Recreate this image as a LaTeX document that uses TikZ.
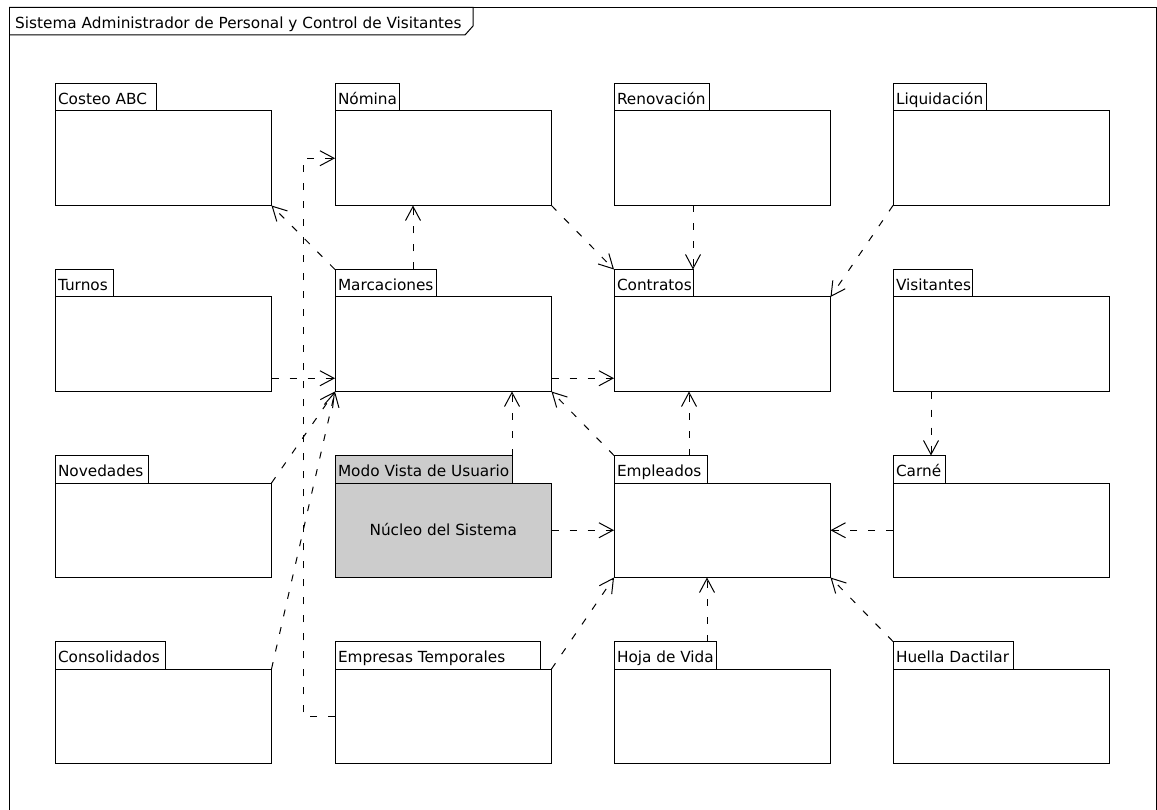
\documentclass[tikz,border=0pt]{standalone}
\usepackage{fontspec}
\newfontfamily\dv{DejaVu Sans}
\usetikzlibrary{arrows.meta,calc}
\definecolor{nucgray}{HTML}{CCCCCC}
\newcommand\umlpkg[6]{%
  \node[tabbox, fill=#6] (#1T) at (#2,#3) {\makebox[\dimexpr#4pt-6pt\relax][l]{#5}};
  \node[bodybox, fill=#6] (#1B) at (#2,#3+27.5) {};
}
\begin{document}
\begin{tikzpicture}[x=1pt,y=-1pt,
  font=\dv\fontsize{15.3}{18}\selectfont,
  tabbox/.style={draw, line width=1pt, minimum height=27.5pt, inner xsep=3pt, inner ysep=0pt,
    text height=14.2pt, text depth=0pt, outer sep=0pt, anchor=north west},
  bodybox/.style={draw, line width=1pt, minimum width=216.5pt, minimum height=94.5pt,
    inner sep=0pt, outer sep=0pt, anchor=north west},
  dep/.style={line width=1pt, dash pattern=on 7pt off 11pt,
    -{Straight Barb[length=14pt,width=15pt]}},
  frameline/.style={line width=1pt}
]
\useasboundingbox (0,0) rectangle (1157,810);
\fill[white] (0,0) rectangle (1157,810);

% outer frame and title tab
\draw[frameline] (9,7.5) rectangle (1156,830);
\node[anchor=west, inner sep=0pt, text height=14.2pt, text depth=0pt] (title) at (15,21.25)
  {Sistema Administrador de Personal y Control de Visitantes};
\draw[frameline] (9,7.5) -- (473,7.5) -- (473,26) -- (465,35) -- (9,35);

% row 1
\umlpkg{costeo}{55}{83.5}{101.5}{Costeo ABC}{white}
\umlpkg{nom}{335}{83.5}{64}{Nómina}{white}
\umlpkg{ren}{614}{83.5}{95}{Renovación}{white}
\umlpkg{liq}{893}{83.5}{93}{Liquidación}{white}
% row 2
\umlpkg{tur}{55}{269.5}{58}{Turnos}{white}
\umlpkg{marc}{335}{269.5}{101}{Marcaciones}{white}
\umlpkg{cont}{614}{269.5}{79}{Contratos}{white}
\umlpkg{vis}{893}{269.5}{79}{Visitantes}{white}
% row 3
\umlpkg{nov}{55}{455.5}{93}{Novedades}{white}
\umlpkg{nuc}{335}{455.5}{177}{Modo Vista de Usuario}{nucgray}
\umlpkg{empl}{614}{455.5}{93}{Empleados}{white}
\umlpkg{car}{893}{455.5}{52}{Carné}{white}
% row 4
\umlpkg{cons}{55}{641.5}{110}{Consolidados}{white}
\umlpkg{empres}{335}{641.5}{205}{Empresas Temporales}{white}
\umlpkg{hoja}{614}{641.5}{102}{Hoja de Vida}{white}
\umlpkg{huel}{893}{641.5}{120}{Huella Dactilar}{white}

\node[inner sep=0pt, text height=11.2pt, text depth=0pt] (nuctext) at (nucB.center) {Núcleo del Sistema};

% dependencies
\draw[dep] (marcT.north west) -- (costeoB.south east);
\draw[dep] ($(marcT.north west)+(78,0)$) -- ($(nomB.south west)+(78,0)$);
\draw[dep] (empresB.west) -- ++(-32,0) |- (nomB.west);
\draw[dep] ($(turB.east)+(0,34)$) -- ($(marcB.west)+(0,34)$);
\draw[dep] (novB.north east) -- (marcB.south west);
\draw[dep] (consB.north east) -- (marcB.south west);
\draw[dep] ($(marcB.east)+(0,34)$) -- ($(contB.west)+(0,34)$);
\draw[dep] (nomB.south east) -- (contT.north west);
\draw[dep] (contT.north east |- renB.south) -- (contT.north east);
\draw[dep] (liqB.south west) -- (contB.north east);
\draw[dep] (nucT.north east) -- (nucT.north east |- marcB.south);
\draw[dep] (emplT.north west) -- (marcB.south east);
\draw[dep] ($(emplT.north west)+(75,0)$) -- ($(contB.south west)+(75,0)$);
\draw[dep] ($(visB.south west)+(38,0)$) -- ($(carT.north west)+(38,0)$);
\draw[dep] (nucB.east) -- (emplB.west);
\draw[dep] (carB.west) -- (emplB.east);
\draw[dep] (empresB.north east) -- (emplB.south west);
\draw[dep] (hojaT.north west -| emplT.east) -- (emplT.east |- emplB.south);
\draw[dep] (huelT.north west) -- (emplB.south east);
\end{tikzpicture}
\end{document}
